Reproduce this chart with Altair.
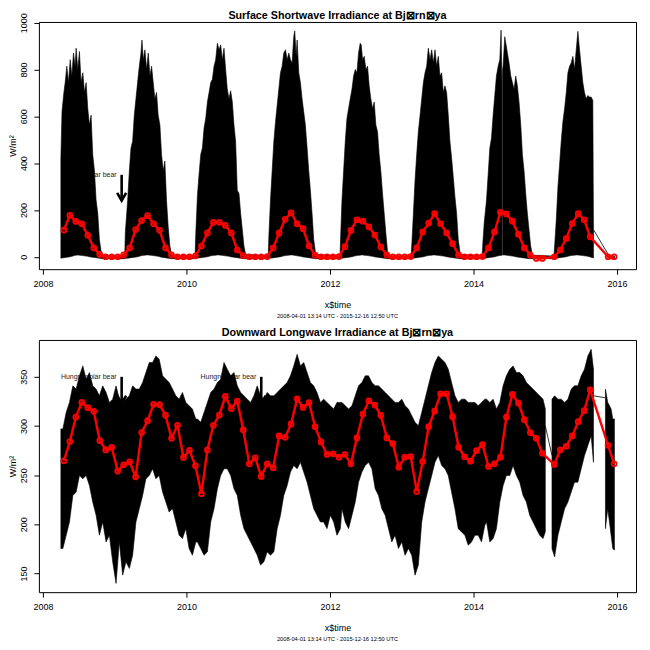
import altair as alt
import pandas as pd

# ---------------- data ----------------
# Surface shortwave: envelope of the dense hourly trace (decimal year, upper, lower)
sw_t = [2008.250, 2008.266, 2008.292, 2008.310, 2008.333, 2008.356, 2008.380, 2008.403, 2008.426, 2008.449,
        2008.463, 2008.486, 2008.509, 2008.532, 2008.556, 2008.579, 2008.602, 2008.625, 2008.648, 2008.671,
        2008.694, 2008.718, 2008.741, 2008.764, 2008.787, 2008.810, 2008.833,
        2009.140, 2009.148, 2009.181, 2009.204, 2009.227, 2009.250, 2009.273, 2009.296, 2009.319, 2009.343,
        2009.366, 2009.380, 2009.398, 2009.421, 2009.445, 2009.468, 2009.491, 2009.514, 2009.537, 2009.560,
        2009.583, 2009.606, 2009.630, 2009.653, 2009.676, 2009.699, 2009.722, 2009.745, 2009.769, 2009.796,
        2010.120, 2010.130, 2010.153, 2010.176, 2010.199, 2010.222, 2010.245, 2010.268, 2010.292, 2010.315,
        2010.338, 2010.361, 2010.384, 2010.407, 2010.431, 2010.454, 2010.477, 2010.500, 2010.523, 2010.546,
        2010.569, 2010.593, 2010.616, 2010.639, 2010.662, 2010.685, 2010.708, 2010.732, 2010.755, 2010.778,
        2010.801, 2010.824,
        2011.140, 2011.148, 2011.171, 2011.194, 2011.218, 2011.241, 2011.264, 2011.287, 2011.310, 2011.333,
        2011.356, 2011.380, 2011.403, 2011.426, 2011.449, 2011.472, 2011.495, 2011.509, 2011.528, 2011.542,
        2011.565, 2011.588, 2011.611, 2011.634, 2011.657, 2011.681, 2011.704, 2011.727, 2011.750, 2011.773,
        2011.801,
        2012.140, 2012.150, 2012.167, 2012.190, 2012.213, 2012.236, 2012.259, 2012.282, 2012.306, 2012.329,
        2012.352, 2012.375, 2012.398, 2012.421, 2012.435, 2012.454, 2012.477, 2012.500, 2012.523, 2012.546,
        2012.569, 2012.593, 2012.616, 2012.639, 2012.662, 2012.685, 2012.708, 2012.732, 2012.755, 2012.778,
        2012.801, 2012.824,
        2013.130, 2013.139, 2013.162, 2013.185, 2013.208, 2013.231, 2013.255, 2013.278, 2013.301, 2013.324,
        2013.347, 2013.370, 2013.394, 2013.417, 2013.440, 2013.463, 2013.486, 2013.509, 2013.532, 2013.556,
        2013.579, 2013.602, 2013.625, 2013.648, 2013.671, 2013.694, 2013.718, 2013.741, 2013.764, 2013.787,
        2013.815,
        2014.120, 2014.130, 2014.150, 2014.181, 2014.204, 2014.227, 2014.250, 2014.273, 2014.296, 2014.319,
        2014.343, 2014.366, 2014.384, 2014.396,
        2014.405, 2014.412, 2014.435, 2014.454, 2014.472, 2014.495, 2014.519, 2014.542, 2014.565, 2014.588,
        2014.611, 2014.634, 2014.658, 2014.681, 2014.704, 2014.727, 2014.750, 2014.773, 2014.796, 2014.820,
        2015.120, 2015.130, 2015.153, 2015.176, 2015.199, 2015.222, 2015.245, 2015.269, 2015.292, 2015.315,
        2015.338, 2015.361, 2015.384, 2015.407, 2015.431, 2015.454, 2015.477, 2015.500, 2015.523, 2015.546,
        2015.569, 2015.593, 2015.616, 2015.639, 2015.662, 2015.671,
        2015.890, 2015.963]
sw_hi = [420, 620, 702, 744, 814, 744, 842, 772, 870, 814,
         891, 800, 877, 744, 786, 702, 744, 633, 563, 605,
         437, 367, 242, 186, 74, 25, 5,
         3, 102, 242, 367, 465, 493, 605, 675, 744, 814,
         870, 926, 842, 884, 800, 870, 772, 814, 744, 675,
         702, 605, 563, 437, 367, 409, 242, 130, 46, 7,
         3, 100, 263, 354, 437, 465, 549, 591, 661, 702,
         744, 758, 814, 842, 912, 884, 905, 842, 891, 800,
         716, 675, 709, 661, 563, 493, 284, 270, 186, 116,
         46, 11,
         3, 88, 242, 367, 493, 577, 647, 716, 786, 814,
         870, 884, 842, 870, 842, 828, 940, 965, 856, 926,
         786, 744, 675, 619, 563, 465, 367, 284, 186, 74,
         11,
         3, 100, 242, 367, 493, 591, 633, 675, 716, 772,
         800, 786, 870, 912, 905, 842, 856, 800, 814, 730,
         675, 633, 661, 563, 535, 437, 367, 270, 186, 102,
         25, 4,
         3, 46, 186, 326, 437, 535, 605, 675, 744, 786,
         814, 891, 842, 884, 828, 884, 814, 856, 772, 786,
         702, 730, 702, 605, 493, 423, 340, 256, 186, 74,
         11,
         3, 60, 150, 242, 354, 465, 507, 605, 689, 772,
         814, 842, 968, 744,
         800, 814, 940, 905, 870, 828, 772, 744, 716, 772,
         730, 661, 563, 437, 367, 270, 186, 116, 46, 7,
         3, 46, 158, 298, 395, 493, 577, 633, 702, 786,
         814, 828, 856, 800, 884, 963, 884, 814, 744, 702,
         675, 689, 682, 682, 668, 116,
         3, 3]
sw_lo = [-6, -5, -4, -3, -2, -1, 0, 2, 4, 6,
         7, 8, 7, 6, 5, 4, 3, 2, 0, -1,
         -2, -3, -4, -5, -6, -7, -8,
         -8, -7, -6, -5, -4, -3, -2, -1, 0, 2,
         4, 5, 6, 7, 8, 8, 7, 6, 5, 4,
         3, 2, 0, -2, -3, -4, -5, -6, -7, -8,
         -8, -7, -6, -5, -4, -3, -2, -1, 0, 2,
         4, 5, 6, 7, 8, 8, 7, 6, 5, 4,
         3, 2, 0, -1, -2, -3, -4, -5, -6, -7,
         -8, -8,
         -8, -7, -6, -5, -4, -3, -2, -1, 0, 2,
         4, 5, 6, 7, 8, 8, 7, 6, 5, 4,
         3, 2, 0, -1, -2, -3, -4, -5, -6, -7,
         -8,
         -8, -7, -6, -5, -4, -3, -2, -1, 0, 2,
         4, 5, 6, 7, 8, 8, 7, 6, 5, 4,
         3, 2, 0, -1, -2, -3, -4, -5, -6, -7,
         -8, -8,
         -8, -7, -6, -5, -4, -3, -2, -1, 0, 2,
         4, 5, 6, 7, 8, 8, 7, 6, 5, 4,
         3, 2, 0, -1, -2, -3, -4, -5, -6, -7,
         -8,
         -8, -7, -6, -5, -4, -3, -2, -1, 0, 2,
         4, 5, 6, 7,
         7, 8, 8, 7, 6, 5, 4, 3, 2, 0,
         -1, -2, -3, -4, -5, -6, -7, -8, -8, -8,
         -8, -7, -6, -5, -4, -3, -2, -1, 0, 2,
         4, 5, 6, 7, 8, 8, 7, 6, 5, 4,
         3, 2, 0, -2, -4, -5,
         -8, -8]
sw_breaks = [2014.400, 2015.800]          # data gaps
sw_gap_t = [2015.671, 2015.890]           # thin line across the late-2015 gap
sw_gap_v = [116, 3]
sw_gap_id = [1, 1]

# Downward longwave: envelope of the dense hourly trace
lw_t = [2008.250, 2008.278, 2008.324, 2008.370, 2008.417, 2008.463, 2008.509, 2008.556, 2008.602, 2008.648,
        2008.694, 2008.741, 2008.787, 2008.833, 2008.880, 2008.926, 2008.972, 2009.019, 2009.065, 2009.111,
        2009.157, 2009.204, 2009.250, 2009.296, 2009.343, 2009.389, 2009.435, 2009.482, 2009.528, 2009.574,
        2009.620, 2009.667, 2009.713, 2009.759, 2009.806, 2009.852, 2009.898, 2009.944, 2009.991, 2010.037,
        2010.083, 2010.130, 2010.153, 2010.199, 2010.245, 2010.292, 2010.338, 2010.384, 2010.431, 2010.477,
        2010.523, 2010.569, 2010.616, 2010.662, 2010.708, 2010.755, 2010.801, 2010.847, 2010.894, 2010.940,
        2010.986, 2011.032, 2011.079, 2011.125, 2011.171, 2011.218, 2011.264, 2011.310, 2011.356, 2011.403,
        2011.449, 2011.495, 2011.542, 2011.588, 2011.634, 2011.681, 2011.727, 2011.773, 2011.819, 2011.866,
        2011.912, 2011.958, 2012.005, 2012.051, 2012.097, 2012.144, 2012.167, 2012.213, 2012.259, 2012.306,
        2012.352, 2012.398, 2012.444, 2012.491, 2012.537, 2012.583, 2012.630, 2012.676, 2012.722, 2012.769,
        2012.815, 2012.861, 2012.907, 2012.954, 2013.000, 2013.046, 2013.093, 2013.139, 2013.185, 2013.231,
        2013.278, 2013.324, 2013.370, 2013.417, 2013.463, 2013.509, 2013.556, 2013.602, 2013.648, 2013.694,
        2013.741, 2013.787, 2013.833, 2013.880, 2013.926, 2013.972, 2014.019, 2014.065, 2014.111, 2014.157,
        2014.181, 2014.227, 2014.273, 2014.319, 2014.366, 2014.412, 2014.458, 2014.505, 2014.551, 2014.597,
        2014.644, 2014.690, 2014.736, 2014.783, 2014.829, 2014.875, 2014.922, 2014.968, 2015.000,
        2015.093, 2015.130, 2015.176, 2015.222, 2015.269, 2015.315, 2015.361, 2015.407, 2015.454, 2015.500,
        2015.546, 2015.593, 2015.639, 2015.671,
        2015.838, 2015.870, 2015.894, 2015.917, 2015.940, 2015.963]
lw_hi = [297.0, 297.0, 313.8, 324.0, 340.8, 337.5, 351.0, 361.1, 347.6, 354.4,
         340.8, 337.5, 330.7, 340.8, 334.1, 324.0, 327.3, 340.8, 327.3, 324.0,
         327.3, 330.7, 340.8, 337.5, 337.5, 344.2, 354.4, 364.5, 364.5, 371.2,
         367.9, 351.0, 347.6, 344.2, 337.5, 330.7, 327.3, 334.1, 324.0, 320.6,
         317.2, 307.1, 307.1, 303.7, 313.8, 324.0, 334.1, 337.5, 344.2, 347.6,
         364.5, 357.7, 351.0, 354.4, 340.8, 334.1, 330.7, 327.3, 324.0, 330.7,
         340.8, 330.7, 327.3, 334.1, 330.7, 330.7, 334.1, 337.5, 340.8, 344.2,
         351.0, 361.1, 372.9, 361.1, 364.5, 354.4, 344.2, 340.8, 334.1, 324.0,
         327.3, 324.0, 320.6, 317.2, 324.0, 324.0, 324.0, 320.6, 317.2, 320.6,
         330.7, 340.8, 344.2, 351.0, 351.0, 344.2, 340.8, 340.8, 337.5, 334.1,
         330.7, 327.3, 324.0, 324.0, 327.3, 320.6, 317.2, 310.5, 303.7, 300.3,
         313.8, 327.3, 340.8, 354.4, 364.5, 371.2, 367.9, 364.5, 357.7, 344.2,
         330.7, 324.0, 327.3, 327.3, 324.0, 324.0, 324.0, 320.6, 324.0, 327.3,
         327.3, 324.0, 327.3, 317.2, 324.0, 340.8, 351.0, 357.7, 361.1, 354.4,
         354.4, 351.0, 344.2, 340.8, 337.5, 334.1, 330.7, 327.3, 317.2,
         327.3, 330.7, 327.3, 327.3, 324.0, 327.3, 337.5, 340.8, 340.8, 351.0,
         357.7, 371.2, 378.0, 357.7,
         337.5, 324.0, 320.6, 317.2, 307.1, 307.1]
lw_lo = [175.4, 175.4, 188.9, 202.4, 229.4, 232.8, 249.7, 246.3, 249.7, 239.5,
         222.7, 209.2, 188.9, 202.4, 182.1, 188.9, 161.9, 139.9, 182.1, 148.3,
         161.9, 155.1, 168.6, 202.4, 215.9, 229.4, 246.3, 249.7, 256.5, 246.3,
         249.7, 232.8, 222.7, 212.5, 215.9, 202.4, 188.9, 185.5, 195.6, 175.4,
         168.6, 182.1, 182.1, 175.4, 168.6, 172.0, 202.4, 215.9, 236.2, 249.7,
         256.5, 256.5, 249.7, 236.2, 229.4, 209.2, 195.6, 188.9, 182.1, 175.4,
         168.6, 158.5, 161.9, 172.0, 168.6, 172.0, 195.6, 209.2, 229.4, 239.5,
         253.1, 259.8, 256.5, 263.2, 253.1, 242.9, 229.4, 215.9, 209.2, 202.4,
         202.4, 195.6, 209.2, 202.4, 188.9, 195.6, 215.9, 202.4, 195.6, 209.2,
         222.7, 242.9, 253.1, 259.8, 263.2, 256.5, 236.2, 229.4, 215.9, 209.2,
         195.6, 182.1, 188.9, 175.4, 182.1, 168.6, 175.4, 168.6, 148.3, 158.5,
         202.4, 222.7, 236.2, 249.7, 263.2, 269.9, 259.8, 256.5, 249.7, 232.8,
         215.9, 195.6, 192.3, 188.9, 178.8, 182.1, 188.9, 188.9, 182.1, 199.0,
         202.4, 182.1, 185.5, 195.6, 222.7, 239.5, 249.7, 249.7, 259.8, 249.7,
         242.9, 229.4, 222.7, 209.2, 202.4, 195.6, 188.9, 185.5, 192.3,
         175.4, 166.9, 188.9, 202.4, 215.9, 222.7, 232.8, 242.9, 242.9, 256.5,
         269.9, 280.1, 290.2, 263.2,
         195.6, 215.9, 202.4, 188.9, 175.4, 173.7]
lw_breaks = [2015.050, 2015.750]
lw_gap_t = [2015.000, 2015.093, 2015.671, 2015.838]
lw_gap_v = [300.0, 270.0, 330.7, 328.7]
lw_gap_id = [1, 1, 2, 2]

# Monthly means (Apr 2008 .. Dec 2015), None = no monthly mean plotted
months = [f"{y}-{m:02d}" for y in range(2008, 2016) for m in range(1, 13)
          if (y, m) >= (2008, 4)]
sw_mean = [114, 177, 151, 141, 92, 38, 10, 0, 0, 0, 8, 38,
           116, 155, 176, 141, 113, 38, 8, 0, 0, 0, 4, 46,
           102, 147, 147, 134, 102, 29, 5, 0, 0, 0, 1, 38,
           102, 160, 188, 141, 120, 46, 7, 0, 0, 0, 1, 43,
           113, 158, 152, 128, 93, 42, 8, 0, 0, 0, 1, 38,
           106, 144, 184, 141, 102, 56, 8, 0, 0, 0, 1, 38,
           106, 190, 183, 152, 96, 38, 7, -7, -7, None, 0, 29,
           78, 142, 184, 158, 85, None, None, 0, 0]
lw_mean = [264.6, 284.1, 309.1, 324.0, 318.6, 314.9, 285.2, 275.7, 278.4, 254.1, 260.5, 263.6,
           248.4, 293.3, 305.4, 322.0, 321.7, 310.8, 287.5, 300.7, 268.0, 275.3, 259.5, 231.1,
           275.7, 300.7, 311.2, 330.1, 317.9, 325.4, 296.0, 261.5, 267.6, 248.7, 261.5, 257.5,
           289.9, 288.5, 302.1, 327.7, 318.9, 323.7, 299.3, 283.8, 271.0, 271.7, 268.3, 271.0,
           261.5, 287.9, 312.2, 325.7, 321.3, 310.8, 287.9, 282.1, 258.1, 268.3, 268.9, 233.5,
           263.9, 299.3, 315.2, 332.8, 332.8, 309.5, 278.4, 268.6, 264.2, 275.0, 281.1, 258.8,
           261.5, 268.3, 309.1, 332.1, 323.3, 306.4, 293.3, 287.5, 272.3, None, 260.8, 275.7,
           279.4, 289.9, 304.4, 315.6, 336.8, None, None, 280.4, 261.5]

# Annotations ("Hungry polar bear" arrows)
ann_label = "Hungry polar bear"
sw_ann_t = [2009.097]
sw_ann_top = [350]
sw_ann_tip = [240]
lw_ann_t = [2009.097, 2011.042]
lw_ann_top = [350, 350]
lw_ann_tip = [323, 323]

x_ticks = [2008, 2010, 2012, 2014, 2016]
sw_ticks = [0, 200, 400, 600, 800, 1000]
lw_ticks = [150, 200, 250, 300, 350]
sw_title = "Surface Shortwave Irradiance at Bj\u22a0rn\u22a0ya"
lw_title = "Downward Longwave Irradiance at Bj\u22a0rn\u22a0ya"
x_title = "x$time"
y_title = "W/m\u00b2"
period_note = "2008-04-01 13:14 UTC - 2015-12-16 12:50 UTC"

# ---------------- build frames ----------------
def month_time(s):
    y, m = s.split("-")
    return int(y) + (int(m) - 0.5) / 12.0


def trace_df(t, hi, lo, breaks):
    seg = [sum(1 for b in breaks if tt > b) for tt in t]
    return pd.DataFrame({"t": t, "hi": hi, "lo": lo, "seg": seg})


def mean_df(vals):
    d = pd.DataFrame({"t": [month_time(m) for m in months], "v": vals})
    return d.dropna()


FONT = "Liberation Sans"
W = 599
XDOM = [2007.944, 2016.264]


def panel(trace, gap, means, ann, ydom, yticks, H, title, title_offset):
    xs = alt.Scale(domain=XDOM, nice=False, zero=False)
    ys = alt.Scale(domain=ydom, nice=False, zero=False)
    xax = alt.Axis(values=x_ticks, format="d", title=x_title, labelFlush=False,
                   labelOverlap=False, grid=False, domain=False, tickSize=5,
                   labelPadding=5, titlePadding=12, labelFont=FONT, labelFontSize=9,
                   labelColor="black", titleFont=FONT, titleFontSize=9,
                   titleFontWeight="normal", titleColor="black", tickColor="black")
    yax = alt.Axis(values=yticks, format="d", title=y_title, labelAngle=-90,
                   labelAlign="center", labelBaseline="bottom", labelFlush=False,
                   labelOverlap=False, grid=False, domain=False, tickSize=5,
                   labelPadding=5, titlePadding=2, labelFont=FONT, labelFontSize=9,
                   labelColor="black", titleFont=FONT, titleFontSize=9,
                   titleFontWeight="normal", titleColor="black", tickColor="black")
    X = alt.X("t:Q", scale=xs, axis=xax)

    text = alt.Chart(ann).mark_text(align="right", baseline="middle", dx=-5,
                                    fontSize=7, font=FONT, color="#222222").encode(
        x=X, y=alt.Y("top:Q", scale=ys, axis=yax), text="label:N")
    black = alt.Chart(trace).mark_area(color="black", opacity=1,
                                       strokeWidth=0.6, stroke="black").encode(
        x=X, y=alt.Y("hi:Q", scale=ys, axis=yax), y2="lo:Q", detail="seg:N")
    conn = alt.Chart(gap).mark_line(color="black", strokeWidth=0.8).encode(
        x=X, y=alt.Y("v:Q", scale=ys, axis=yax), detail="gid:N")
    shaft = alt.Chart(ann).mark_rule(color="black", strokeWidth=2.6).encode(
        x=X, y=alt.Y("top:Q", scale=ys, axis=yax), y2="tip:Q")
    head = alt.Chart(ann).mark_point(shape="M-1,-1.7L0,0L1,-1.7", filled=False,
                                     stroke="black", strokeWidth=2.6, size=81,
                                     opacity=1).encode(
        x=X, y=alt.Y("tip:Q", scale=ys, axis=yax))
    red_line = alt.Chart(means).mark_line(color="#ff0000", strokeWidth=2.4).encode(
        x=X, y=alt.Y("v:Q", scale=ys, axis=yax))
    red_pts = alt.Chart(means).mark_point(shape="circle", filled=False, stroke="#ff0000",
                                          strokeWidth=1.8, size=24, opacity=1).encode(
        x=X, y=alt.Y("v:Q", scale=ys, axis=yax))
    note = alt.Chart(pd.DataFrame({"s": [period_note]})).mark_text(
        fontSize=5.7, font=FONT, color="black", baseline="middle", align="center").encode(
        text="s:N", x=alt.value(W / 2), y=alt.value(H + 47))
    return alt.layer(text, black, conn, shaft, head, red_line, red_pts, note).properties(
        width=W, height=H,
        title=alt.TitleParams(title, fontSize=10.8, fontWeight="bold", font=FONT,
                              anchor="middle", offset=title_offset, color="black"))


sw_ann = pd.DataFrame({"t": sw_ann_t, "top": sw_ann_top, "tip": sw_ann_tip,
                       "label": [ann_label] * len(sw_ann_t)})
lw_ann = pd.DataFrame({"t": lw_ann_t, "top": lw_ann_top, "tip": lw_ann_tip,
                       "label": [ann_label] * len(lw_ann_t)})
sw_gap = pd.DataFrame({"t": sw_gap_t, "v": sw_gap_v, "gid": sw_gap_id})
lw_gap = pd.DataFrame({"t": lw_gap_t, "v": lw_gap_v, "gid": lw_gap_id})

top = panel(trace_df(sw_t, sw_hi, sw_lo, sw_breaks), sw_gap, mean_df(sw_mean), sw_ann,
            [-53, 1003], sw_ticks, 248, sw_title, -8)
bottom = panel(trace_df(lw_t, lw_hi, lw_lo, lw_breaks), lw_gap, mean_df(lw_mean), lw_ann,
               [131, 387.5], lw_ticks, 253, lw_title, 2)

chart = alt.vconcat(top, bottom, spacing=6).properties(
    padding={"left": 0, "top": 0, "right": 5, "bottom": 0},
    background="white"
).configure_view(stroke="black", strokeWidth=1)

chart.save("out.html", embed_options={"renderer": "svg", "actions": False})
